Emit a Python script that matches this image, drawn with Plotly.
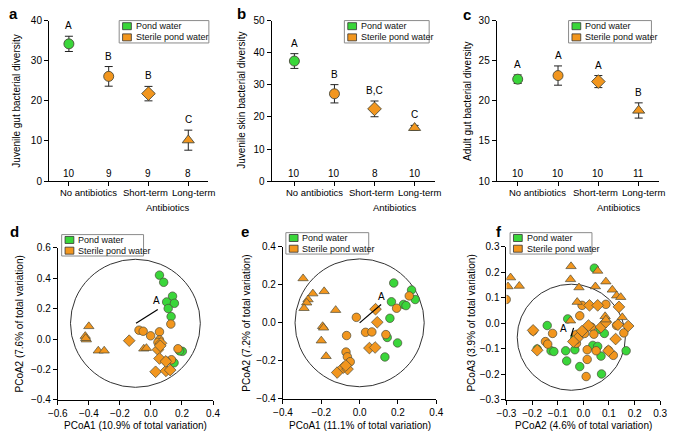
import plotly.graph_objects as go

# ---------------- data ----------------
water_names = ["Pond water", "Sterile pond water"]
category_labels = ["No antibiotics", "Short-term", "Long-term"]
category_pos = [0.5, 1.93, 3.12]
group_x = [0, 1, 2, 3]
group_water = [0, 1, 1, 1]          # index into water_names
group_symbol = ["circle", "circle", "diamond", "triangle-up"]

a_mean = [34.2, 26.1, 21.8, 10.2]
a_err = [1.9, 2.45, 1.8, 2.5]
a_letters = ["A", "B", "B", "C"]
a_n = [10, 9, 9, 8]

b_mean = [37.4, 27.2, 22.5, 16.6]
b_err = [2.3, 2.85, 2.45, 0.75]
b_letters = ["A", "B", "B,C", "C"]
b_n = [10, 10, 8, 10]

c_mean = [22.7, 23.15, 22.4, 18.8]
c_err = [0.53, 1.2, 0.75, 0.95]
c_letters = ["A", "A", "A", "B"]
c_n = [10, 10, 10, 11]

# PCoA panel d
d_pond_x = [0.055, 0.082, 0.139, 0.101, 0.151, 0.111, 0.130, 0.202, 0.185, 0.149]
d_pond_y = [0.419, 0.372, 0.281, 0.243, 0.234, 0.200, 0.147, -0.081, -0.078, -0.156]
d_none_x = [0.128, -0.077, -0.050, -0.002, 0.055, 0.055, 0.045, 0.174, 0.132, 0.097]
d_none_y = [0.098, 0.058, 0.051, 0.021, 0.047, -0.006, -0.022, -0.064, -0.136, -0.145]
d_short_x = [-0.140, 0.065, 0.045, 0.055, 0.030, 0.097, 0.124, 0.096, 0.060]
d_short_y = [-0.011, -0.028, -0.070, -0.128, -0.215, -0.209, -0.204, -0.147, -0.045]
d_long_x = [-0.400, -0.423, -0.416, -0.339, -0.301, -0.046, -0.029, -0.420]
d_long_y = [0.083, 0.019, -0.004, -0.077, -0.077, -0.064, -0.060, 0.005]
d_ellipse = [-0.100, 0.103, 0.418, 0.42]      # cx, cy, rx, ry
d_vector = [-0.096, 0.104, 0.044, 0.194]     # x0, y0, x1, y1
d_vector_label = [0.033, 0.25]

# PCoA panel e
e_pond_x = [0.178, 0.271, 0.290, 0.166, 0.229, 0.242, 0.158, 0.144, 0.198, 0.132]
e_pond_y = [0.210, 0.173, 0.123, 0.111, 0.097, 0.091, 0.024, -0.077, -0.106, -0.180]
e_none_x = [0.259, 0.193, -0.017, -0.068, 0.031, 0.064, 0.137, -0.071, -0.064, -0.049]
e_none_y = [0.142, 0.077, 0.029, -0.067, -0.050, -0.048, -0.062, -0.154, -0.179, -0.205]
e_short_x = [0.083, 0.092, 0.051, 0.081, -0.117, -0.085, -0.063, -0.072]
e_short_y = [0.072, 0.003, -0.133, -0.130, -0.262, -0.236, -0.244, -0.225]
e_long_x = [-0.295, -0.244, -0.185, -0.269, -0.276, -0.290, -0.125, -0.193, -0.188, -0.200, -0.175]
e_long_y = [0.234, 0.154, 0.166, 0.123, 0.106, 0.077, 0.067, -0.018, -0.026, -0.094, -0.176]
e_ellipse = [0.0, 0.0, 0.337, 0.337]
e_vector = [0.0, 0.0, 0.112, 0.097]
e_vector_label = [0.115, 0.14]

# PCoA panel f
f_pond_x = [0.043, -0.141, -0.061, -0.033, -0.126, -0.115, -0.069, -0.033, -0.065, -0.014,
            0.037, 0.056, 0.065, 0.082, 0.069, 0.071, 0.167, -0.180]
f_pond_y = [0.217, -0.008, 0.018, -0.055, -0.107, -0.110, -0.107, -0.103, -0.147, -0.169,
            -0.086, -0.090, -0.023, -0.039, -0.128, -0.198, -0.107, -0.100]
f_none_x = [-0.301, -0.014, -0.005, 0.088, 0.031, -0.120, -0.148, -0.139, -0.196, -0.027, 0.005,
            0.041, -0.027, 0.015, 0.050, 0.098, 0.117, 0.015, 0.011, 0.158, 0.130]
f_none_y = [0.094, 0.030, 0.071, 0.075, -0.014, -0.039, -0.071, -0.081, -0.029, -0.043, -0.039,
            -0.042, -0.078, -0.103, -0.107, -0.105, -0.125, -0.141, -0.208, -0.037, -0.008]
f_short_x = [-0.196, -0.180, 0.024, 0.056, 0.139, 0.020, -0.005, -0.023, -0.039, 0.069, 0.088,
             0.135, 0.175, 0.126, 0.098]
f_short_y = [-0.027, -0.105, 0.071, 0.071, 0.065, -0.008, -0.030, -0.058, -0.071, -0.014, 0.005,
             -0.005, -0.010, -0.061, -0.107]
f_long_x = [-0.048, -0.050, -0.017, 0.056, 0.047, 0.088, 0.113, 0.130, 0.146, 0.085, 0.088,
            0.152, -0.284, -0.294, -0.250, -0.050, -0.024]
f_long_y = [0.224, 0.173, 0.141, 0.206, 0.145, 0.164, 0.132, 0.109, 0.103, 0.028, 0.015,
            0.024, 0.180, 0.145, 0.147, 0.011, 0.084]
f_ellipse = [-0.047, -0.054, 0.211, 0.208]
f_vector = [-0.048, -0.050, -0.038, -0.017]
f_vector_label = [-0.078, -0.02]

# ---------------- styling ----------------
GREEN = "#3ad63a"
ORANGE = "#f2961e"
EDGE = "#4a4a3a"
FONT = "Liberation Sans, Arial, sans-serif"
W, H = 675, 441
water_colors = [GREEN, ORANGE]


def px(x):
    return x / W


def py(y):
    return 1 - y / H


fig = go.Figure()
annotations = []
shapes = []

# panel geometry in pixels: (x0, x1, ytop, ybottom)
top_panels = [
    ("a", "x", "y", (40, 203.3, 15, 180), [0, 40], 10, [-0.5, 3.5],
     "Juvenile gut bacterial diversity", a_mean, a_err, a_letters, a_n, (112, 15, 204, 38)),
    ("b", "x2", "y2", (268.3, 435.6, 15, 180), [0, 50], 10, [-0.57, 3.5],
     "Juvenile skin bacterial diversity", b_mean, b_err, b_letters, b_n, (343, 15, 430, 38)),
    ("c", "x3", "y3", (499.3, 665.6, 15, 180), [10, 30], 5, [-0.52, 3.5],
     "Adult gut bacterial diversity", c_mean, c_err, c_letters, c_n, (573, 15, 658, 38)),
]
letter_pos = {"a": (4, 8), "b": (237, 8), "c": (469, 9), "d": (5, 232), "e": (241, 232), "f": (502, 232)}
ytitle_x = {"a": 7, "b": 238, "c": 470, "d": 10, "e": 243, "f": 473}


def add_legend(box):
    x0, y0, x1, y1 = box
    shapes.append(dict(type="rect", xref="paper", yref="paper", x0=px(x0), x1=px(x1),
                       y0=py(y1), y1=py(y0), line=dict(color="#8a8a8a", width=1),
                       fillcolor="white", layer="above"))
    hh = (y1 - y0) / 2
    for i, name in enumerate(water_names):
        cy = y0 + hh * (i + 0.5)
        shapes.append(dict(type="rect", xref="paper", yref="paper", x0=px(x0 + 3.5), x1=px(x0 + 12.5),
                           y0=py(cy + 3.6), y1=py(cy - 3.6), line=dict(color="#333", width=0.8),
                           fillcolor=water_colors[i], layer="above"))
        annotations.append(dict(xref="paper", yref="paper", x=px(x0 + 15), y=py(cy), text=name,
                                showarrow=False, xanchor="left", yanchor="middle",
                                font=dict(size=9, family=FONT, color="#111")))


def paper_text(x, y, text, angle=0, size=10, bold=False):
    annotations.append(dict(x=px(x), y=py(y), xref="paper", yref="paper",
                            text=("<b>%s</b>" % text) if bold else text, textangle=angle,
                            showarrow=False, xanchor="center", yanchor="middle",
                            font=dict(size=size, family=FONT, color="black")))


layout_axes = {}
for (lab, xa, ya, geo, yr, dt, xr, ytitle, mean, err, letters, ns, lbox) in top_panels:
    x0, x1, yt, yb = geo
    xkey = "xaxis" + xa[1:]
    ykey = "yaxis" + ya[1:]
    layout_axes[xkey] = dict(domain=[px(x0), px(x1)], range=xr, anchor=ya, showgrid=False,
                             zeroline=False, showline=True, linecolor="black", linewidth=1,
                             ticks="outside", ticklen=4, tickcolor="black",
                             tickvals=group_x, ticktext=["", "", "", ""])
    layout_axes[ykey] = dict(domain=[py(yb), py(yt)], range=yr, dtick=dt, anchor=xa, showgrid=False,
                             zeroline=False, showline=True, linecolor="black", linewidth=1,
                             ticks="outside", ticklen=4, tickcolor="black",
                             tickfont=dict(size=10, family=FONT, color="black"))
    for i in range(4):
        fig.add_trace(go.Scatter(
            x=[group_x[i]], y=[mean[i]], xaxis=xa, yaxis=ya, mode="markers",
            name=water_names[group_water[i]], showlegend=False,
            marker=dict(symbol=group_symbol[i], size=10.5 if group_symbol[i] != "circle" else 10,
                        color=water_colors[group_water[i]], line=dict(color=EDGE, width=0.9)),
            error_y=dict(type="data", array=[err[i]], color="#222", thickness=1, width=4)))
        annotations.append(dict(x=group_x[i], y=mean[i] + err[i], xref=xa, yref=ya, text=letters[i],
                                showarrow=False, xanchor="center", yanchor="bottom", yshift=3,
                                font=dict(size=10, family=FONT, color="black")))
        annotations.append(dict(x=group_x[i], y=0.05, xref=xa, yref=ya + " domain", text=str(ns[i]),
                                showarrow=False, xanchor="center", yanchor="middle",
                                font=dict(size=10, family=FONT, color="black")))
    for j, cl in enumerate(category_labels):
        annotations.append(dict(x=category_pos[j], y=py(192), xref=xa, yref="paper", text=cl,
                                showarrow=False, xanchor="center", yanchor="middle",
                                font=dict(size=9.5, family=FONT, color="black")))
    annotations.append(dict(x=2.5, y=py(207), xref=xa, yref="paper", text="Antibiotics",
                            showarrow=False, xanchor="center", yanchor="middle",
                            font=dict(size=9.5, family=FONT, color="black")))
    paper_text(ytitle_x[lab], (yt + yb) / 2, ytitle, angle=-90)
    add_legend(lbox)

bottom_panels = [
    ("d", "x4", "y4", (49, 208.3, 248.3, 405), [-0.6, 0.4], [-0.4, 0.6], 0.2, 0.2,
     "PCoA1 (10.9% of total variation)", "PCoA2 (7.6% of total variation)",
     [(d_pond_x, d_pond_y, 0, "circle"), (d_none_x, d_none_y, 1, "circle"),
      (d_short_x, d_short_y, 1, "diamond"), (d_long_x, d_long_y, 1, "triangle-up")],
     d_ellipse, d_vector, d_vector_label, (53, 235, 137, 257)),
    ("e", "x5", "y5", (280, 437.3, 247.7, 403.7), [-0.4, 0.4], [-0.4, 0.4], 0.2, 0.2,
     "PCoA1 (11.1% of total variation)", "PCoA2 (7.2% of total variation)",
     [(e_pond_x, e_pond_y, 0, "circle"), (e_none_x, e_none_y, 1, "circle"),
      (e_short_x, e_short_y, 1, "diamond"), (e_long_x, e_long_y, 1, "triangle-up")],
     e_ellipse, e_vector, e_vector_label, (283, 233, 368, 255)),
    ("f", "x6", "y6", (509.3, 667, 247.7, 405), [-0.3, 0.3], [-0.3, 0.3], 0.1, 0.1,
     "PCoA2 (4.6% of total variation)", "PCoA3 (3.9% of total variation)",
     [(f_pond_x, f_pond_y, 0, "circle"), (f_none_x, f_none_y, 1, "circle"),
      (f_short_x, f_short_y, 1, "diamond"), (f_long_x, f_long_y, 1, "triangle-up")],
     f_ellipse, f_vector, f_vector_label, (513, 233, 597, 255)),
]

for (lab, xa, ya, geo, xr, yr, dtx, dty, xtitle, ytitle, groups, ell, vec, vlab, lbox) in bottom_panels:
    x0, x1, yt, yb = geo
    xkey = "xaxis" + xa[1:]
    ykey = "yaxis" + ya[1:]
    common = dict(showgrid=False, zeroline=False, showline=True, linecolor="black", linewidth=1,
                  ticks="outside", ticklen=4, tickcolor="black", tickformat=".1f",
                  tickfont=dict(size=10, family=FONT, color="black"))
    layout_axes[xkey] = dict(domain=[px(x0), px(x1)], range=xr, dtick=dtx, tick0=0, anchor=ya, **common)
    layout_axes[ykey] = dict(domain=[py(yb), py(yt)], range=yr, dtick=dty, tick0=0, anchor=xa, **common)
    cx, cy, rx, ry = ell
    shapes.append(dict(type="circle", xref=xa, yref=ya, x0=cx - rx, x1=cx + rx, y0=cy - ry, y1=cy + ry,
                       line=dict(color="#333", width=1), layer="below"))
    shapes.append(dict(type="line", xref=xa, yref=ya, x0=vec[0], y0=vec[1], x1=vec[2], y1=vec[3],
                       line=dict(color="black", width=1.2)))
    annotations.append(dict(x=vlab[0], y=vlab[1], xref=xa, yref=ya, text="A", showarrow=False,
                            xanchor="center", yanchor="middle",
                            font=dict(size=10, family=FONT, color="black")))
    for (gx, gy, wi, sym) in groups:
        fig.add_trace(go.Scatter(
            x=gx, y=gy, xaxis=xa, yaxis=ya, mode="markers", name=water_names[wi], showlegend=False,
            marker=dict(symbol=sym, size=9 if sym != "circle" else 8.5, color=water_colors[wi],
                        line=dict(color=EDGE, width=0.7))))
    paper_text((x0 + x1) / 2, 431, xtitle)
    paper_text(ytitle_x[lab], (yt + yb) / 2, ytitle, angle=-90)
    add_legend(lbox)

for lab, (lx, ly) in letter_pos.items():
    paper_text(lx, ly, lab, size=15, bold=True)

fig.update_layout(width=W, height=H, margin=dict(l=0, r=0, t=0, b=0), paper_bgcolor="white",
                  plot_bgcolor="white", showlegend=False, annotations=annotations, shapes=shapes,
                  hovermode=False, font=dict(family=FONT, size=10, color="black"), **layout_axes)

fig.write_html("out.html", config={"displayModeBar": False, "staticPlot": True},
               post_script="document.body.style.margin='0px';")
